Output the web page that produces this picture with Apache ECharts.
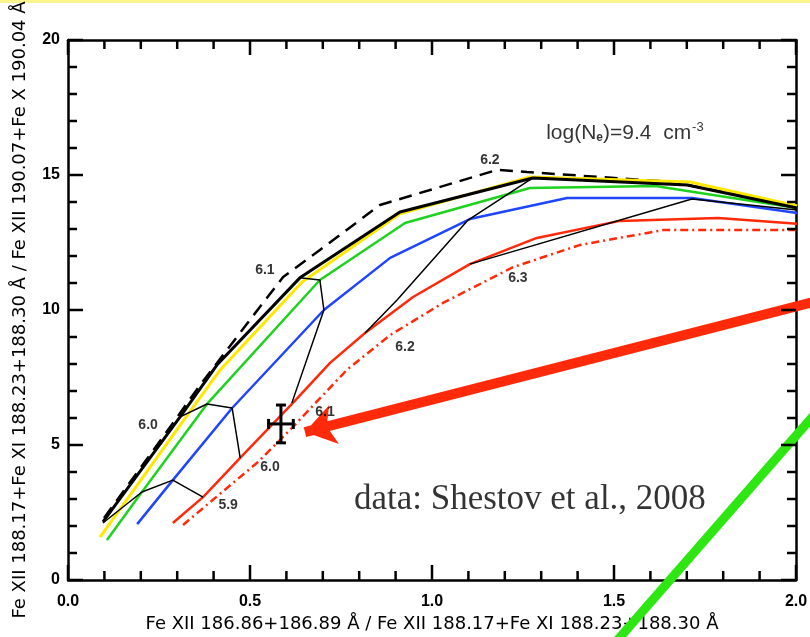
<!DOCTYPE html>
<html>
<head>
<meta charset="utf-8">
<script src="https://cdn.jsdelivr.net/npm/echarts@6/dist/echarts.min.js"></script>
<style>
html, body { margin: 0; padding: 0; background: #fff; }
#chart { width: 810px; height: 637px; }
</style>
</head>
<body>
<div id="chart"></div>
<script>
// Line-ratio curves [x ratio, y ratio], one per model set
const curveDashed = [[0.099,2.30],[0.261,5.30],[0.363,7.22],[0.527,10.11],[0.591,11.22],[0.692,12.22],[0.857,13.89],[1.179,15.19],[1.261,15.11],[1.662,14.74],[2.003,13.81]];
const curveBlack  = [[0.096,2.15],[0.308,6.04],[0.409,7.96],[0.637,11.19],[0.912,13.63],[1.277,14.89],[1.701,14.63],[2.003,13.78]];
const curveYellow = [[0.088,1.59],[0.308,5.74],[0.418,7.78],[0.643,11.04],[0.912,13.56],[1.269,14.93],[1.709,14.74],[2.003,13.85]];
const curveGreen  = [[0.107,1.48],[0.203,3.26],[0.382,6.52],[0.692,11.11],[0.926,13.22],[1.269,14.52],[1.613,14.59],[2.003,13.78]];
const curveBlue   = [[0.190,2.07],[0.288,3.70],[0.451,6.37],[0.703,10.00],[0.885,11.93],[1.104,13.37],[1.371,14.15],[1.714,14.15],[2.003,13.59]];
const curveRed    = [[0.288,2.11],[0.371,3.07],[0.473,4.52],[0.618,6.56],[0.720,8.04],[0.816,9.15],[0.948,10.48],[1.104,11.70],[1.288,12.67],[1.516,13.30],[1.786,13.41],[2.003,13.19]];
const curveRedDashDot = [[0.316,2.04],[0.522,4.37],[0.610,5.56],[0.766,7.78],[0.885,9.07],[1.030,10.26],[1.223,11.59],[1.407,12.41],[1.635,12.96],[2.003,12.96]];

// Isothermal connectors (log T)
const iso59 = [[0.096,2.11],[0.203,3.26],[0.288,3.70],[0.371,3.07]];
const iso60 = [[0.308,6.04],[0.382,6.52],[0.451,6.37],[0.473,4.52]];
const iso61 = [[0.637,11.19],[0.692,11.11],[0.703,10.00],[0.615,6.56]];
const iso62 = [[1.277,14.89],[1.099,13.33],[0.904,10.37],[0.816,9.15]];
const iso63 = [[1.104,11.70],[1.714,14.11],[2.003,13.70]];

// Temperature labels and their anchor points
const isoLabelText = ['6.2','6.1','6.0','6.0','5.9','6.1','6.2','6.3'];
const isoLabelPos  = [[1.159,15.56],[0.541,11.48],[0.220,5.74],[0.555,4.19],[0.440,2.78],[0.706,6.22],[0.926,8.63],[1.236,11.19]];

// Observed ratio with errors: [x, y, xErr, yErr]
const observed = [[0.585, 5.78, 0.034, 0.70]];

// Annotation strokes
const arrowRed  = [[2.093,10.45],[0.651,5.48]];
const strokeGreen = [[1.462,-2.96],[2.093,6.78]];

const densityNote = [1.530, 16.56];
const sourceNote = [1.269, 2.96];

// Axis ranges and tick steps
const xRange = [0, 2], xMajor = 0.5, xMinor = 0.1;
const yRange = [0, 20], yMajor = 5, yMinor = 1;

const xTitle = 'Fe XII 186.86+186.89 Å / Fe XII 188.17+Fe XI 188.23+188.30 Å';
const yTitle = 'Fe XII 188.17+Fe XI 188.23+188.30 Å / Fe XII 190.07+Fe X 190.04 Å';

const chart = echarts.init(document.getElementById('chart'), null, { renderer: 'canvas' });

const axisFont = { color: '#000', fontFamily: 'Liberation Sans, Arial, sans-serif', fontSize: 16, fontWeight: 'bold' };

// Box ticks along all four sides: [x, y, side, isMajor]; side 0 bottom, 1 top, 2 left, 3 right
function buildTicks() {
  const out = [];
  const nx = Math.round((xRange[1] - xRange[0]) / xMinor);
  for (let i = 0; i <= nx; i++) {
    const v = +(xRange[0] + i * xMinor).toFixed(6);
    const major = Math.abs(v / xMajor - Math.round(v / xMajor)) < 1e-6 ? 1 : 0;
    out.push([v, yRange[0], 0, major], [v, yRange[1], 1, major]);
  }
  const ny = Math.round((yRange[1] - yRange[0]) / yMinor);
  for (let i = 0; i <= ny; i++) {
    const v = +(yRange[0] + i * yMinor).toFixed(6);
    const major = Math.abs(v / yMajor - Math.round(v / yMajor)) < 1e-6 ? 1 : 0;
    out.push([xRange[0], v, 2, major], [xRange[1], v, 3, major]);
  }
  return out;
}

function curve(data, color, width, type, z) {
  return {
    type: 'line', data: data, symbol: 'none', silent: true, z: z || 2,
    lineStyle: { color: color, width: width, type: type || 'solid' },
    animation: false
  };
}

function frameAxis(extra) {
  return Object.assign({
    type: 'value',
    axisLine: { show: true, onZero: false, lineStyle: { color: '#000', width: 2.5 } },
    axisTick: { show: false },
    minorTick: { show: false },
    splitLine: { show: false },
    minorSplitLine: { show: false }
  }, extra);
}

const option = {
  backgroundColor: '#fff',
  animation: false,
  grid: { left: 68, right: 14, top: 40, bottom: 57, outerBoundsMode: 'none', containLabel: false },
  xAxis: [
    frameAxis({
      min: xRange[0], max: xRange[1], interval: xMajor, position: 'bottom',
      axisLabel: Object.assign({ margin: 14, formatter: v => v.toFixed(1) }, axisFont),
      name: xTitle, nameLocation: 'middle', nameGap: 33,
      nameTextStyle: { color: '#000', fontFamily: 'DejaVu Sans, sans-serif', fontSize: 18 }
    }),
    frameAxis({ min: xRange[0], max: xRange[1], interval: xMajor, position: 'top', axisLabel: { show: false } })
  ],
  yAxis: [
    frameAxis({
      min: yRange[0], max: yRange[1], interval: yMajor, position: 'left',
      axisLabel: Object.assign({ margin: 8 }, axisFont),
      name: yTitle, nameLocation: 'middle', nameGap: 39, nameRotate: 90,
      nameTextStyle: { color: '#000', fontFamily: 'DejaVu Sans, sans-serif', fontSize: 18 }
    }),
    frameAxis({ min: yRange[0], max: yRange[1], interval: yMajor, position: 'right', axisLabel: { show: false } })
  ],
  graphic: [
    { type: 'rect', left: 0, top: 0, shape: { width: 810, height: 3 }, style: { fill: '#fbf58e' }, silent: true }
  ],
  series: [
    curve(curveDashed, '#000', 2.5, [13, 8]),
    curve(curveYellow, '#ffe800', 3),
    curve(curveBlack, '#000', 3, 'solid', 3),
    curve(curveGreen, '#1ed21e', 2.5),
    curve(curveBlue, '#1f45ff', 2.5),
    curve(curveRed, '#ff2a0a', 2.5),
    curve(curveRedDashDot, '#ff2a0a', 2.5, [8, 4, 2, 4]),
    curve(iso59, '#000', 1.5, 'solid', 4),
    curve(iso60, '#000', 1.5, 'solid', 4),
    curve(iso61, '#000', 1.5, 'solid', 4),
    curve(iso62, '#000', 1.5, 'solid', 4),
    curve(iso63, '#000', 1.5, 'solid', 4),
    {
      type: 'custom', data: observed, encode: { x: 0, y: 1 }, z: 6, silent: true,
      renderItem: function (params, api) {
        const x = api.value(0), y = api.value(1), ex = api.value(2), ey = api.value(3);
        const l = api.coord([x - ex, y]), r = api.coord([x + ex, y]);
        const t = api.coord([x, y + ey]), b = api.coord([x, y - ey]);
        const cap = 5;
        const style = { stroke: '#000', lineWidth: 3 };
        const seg = (x1, y1, x2, y2) => ({ type: 'line', shape: { x1, y1, x2, y2 }, style });
        return {
          type: 'group',
          children: [
            seg(l[0], l[1], r[0], r[1]),
            seg(t[0], t[1], b[0], b[1]),
            seg(l[0], l[1] - cap, l[0], l[1] + cap),
            seg(r[0], r[1] - cap, r[0], r[1] + cap),
            seg(t[0] - cap, t[1], t[0] + cap, t[1]),
            seg(b[0] - cap, b[1], b[0] + cap, b[1])
          ]
        };
      }
    },
    {
      // inward-pointing frame ticks, placed through the axis scales
      type: 'custom', data: buildTicks(), encode: { x: 0, y: 1 }, z: 10, silent: true,
      renderItem: function (params, api) {
        const p = api.coord([api.value(0), api.value(1)]);
        const side = api.value(2);
        const major = api.value(3) > 0.5;
        const len = major ? 15 : 9;
        const w = 2.5;
        let x = p[0], y = p[1], wd = w, ht = w;
        if (side < 0.5) { x = p[0] - w / 2; y = p[1] - len; ht = len; }
        else if (side < 1.5) { x = p[0] - w / 2; y = p[1]; ht = len; }
        else if (side < 2.5) { x = p[0]; y = p[1] - w / 2; wd = len; }
        else { x = p[0] - len; y = p[1] - w / 2; wd = len; }
        return { type: 'rect', shape: { x: x, y: y, width: wd, height: ht }, style: { fill: '#000' } };
      }
    },
    {
      type: 'scatter', symbolSize: 0, silent: true, z: 9,
      data: isoLabelPos.map((p, i) => ({ name: isoLabelText[i], value: p })),
      label: {
        show: true, position: 'inside', formatter: '{b}',
        color: '#000', fontFamily: 'Liberation Sans, Arial, sans-serif', fontSize: 14, fontWeight: 'bold'
      }
    },
    {
      type: 'scatter', symbolSize: 0, silent: true, z: 9,
      data: [{ value: densityNote }],
      label: {
        show: true, position: 'inside',
        formatter: '{a|log(N}{s|e}{a|)=9.4  cm}{p|-3}',
        rich: {
          a: { color: '#000', fontFamily: 'Liberation Sans, Arial, sans-serif', fontSize: 21, lineHeight: 28 },
          s: { color: '#000', fontFamily: 'Liberation Sans, Arial, sans-serif', fontSize: 12, fontWeight: 'bold', lineHeight: 28, verticalAlign: 'bottom', padding: [0, 0, 3, 0] },
          p: { color: '#000', fontFamily: 'Liberation Sans, Arial, sans-serif', fontSize: 13, lineHeight: 28, verticalAlign: 'top', padding: [2, 0, 0, 1] }
        }
      }
    },
    {
      type: 'scatter', symbolSize: 0, silent: true, z: 9,
      data: [{ value: sourceNote }],
      label: {
        show: true, position: 'inside', formatter: 'data: Shestov et al., 2008',
        color: '#000', fontFamily: 'Liberation Serif, Times New Roman, serif', fontSize: 35
      }
    },
    {
      type: 'lines', coordinateSystem: 'cartesian2d', clip: false, silent: true, z: 8,
      data: [{ coords: arrowRed }],
      symbol: ['none', 'arrow'], symbolSize: [0, 30],
      lineStyle: { color: '#ff2a0a', width: 10, opacity: 1, curveness: 0 }
    },
    {
      type: 'lines', coordinateSystem: 'cartesian2d', clip: false, silent: true, z: 8,
      data: [{ coords: strokeGreen }],
      symbol: ['none', 'none'],
      lineStyle: { color: '#2ee612', width: 9, opacity: 1, curveness: 0 }
    }
  ]
};

chart.setOption(option);
</script>
</body>
</html>
